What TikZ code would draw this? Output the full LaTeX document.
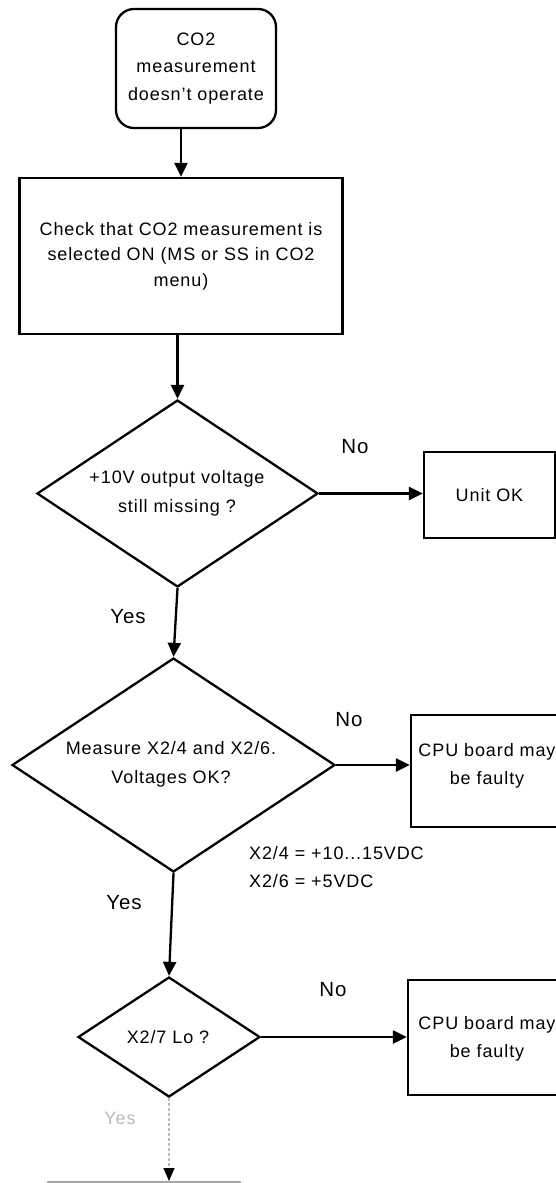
\documentclass[tikz,border=0pt]{standalone}
\usepackage{fontspec}
\setmainfont{Liberation Sans}[LetterSpace=5]
\usetikzlibrary{shapes.geometric,arrows.meta}
\begin{document}
\begin{tikzpicture}[x=1pt,y=-1pt,
  line width=2.3pt,
  txt/.style={font=\fontsize{18}{28}\selectfont, align=center, inner sep=0pt},
  box/.style={draw, rectangle, inner sep=0pt, txt},
  decision/.style={draw, diamond, inner sep=0pt},
  arr/.style={-{Triangle[length=14pt,width=13pt]}},
  lbl/.style={font=\fontsize{20.5}{24}\selectfont, inner sep=0pt},
  faint/.style={draw=gray!55, line width=1.2pt, dash pattern=on 3pt off 2pt},
]
\path[use as bounding box, clip] (0,0) rectangle (556,1183);

% start and first check
\node[box, rounded corners=18pt, minimum width=160pt, minimum height=119pt,
      font=\fontsize{18}{27.5}\selectfont] (start) at (196,68.5)
      {CO2\\measurement\\doesn't operate};
\node[box, minimum width=323pt, minimum height=156pt,
      font=\fontsize{18}{25.5}\selectfont] (check) at (181,256)
      {Check that CO2 measurement is\\selected ON (MS or SS in CO2\\menu)};
\draw[arr] (start.south -| check.north) -- (check.north);

% decision 1
\node[decision, minimum width=281pt, minimum height=187pt] (d1) at (177.5,493.5) {};
\node[txt, font=\fontsize{18}{29}\selectfont] (d1t) at (177,493.5)
      {+10V output voltage\\still missing ?};
\draw[arr] (check.south -| d1.north) -- (d1.north);
\node[box, minimum width=131pt, minimum height=86pt] (unitok) at (489.5,495) {Unit OK};
\draw[arr] (d1.east) -- (d1.east -| unitok.west);
\node[lbl] (no1) at (355,447) {No};
\node[lbl] (yes1) at (128,617) {Yes};

% decision 2
\node[decision, minimum width=323pt, minimum height=214pt] (d2) at (173.5,765) {};
\node[txt, font=\fontsize{18}{29}\selectfont] (d2t) at (171,764.5)
      {Measure X2/4 and X2/6.\\Voltages OK?};
\draw[arr] (d1.south) -- (d2.north);
\node[box, minimum width=154pt, minimum height=112pt] (cpu1) at (488,771) {};
\node[txt] (cpu1t) at (487,766) {CPU board may\\be faulty};
\draw[arr] (d2.east) -- (d2.east -| cpu1.west);
\node[lbl] (no2) at (349,720) {No};
\node[lbl] (yes2) at (124,903) {Yes};
\node[txt, align=left, anchor=west] (note) at (248,867)
      {X2/4 = +10...15VDC\\X2/6 = +5VDC};

% decision 3
\node[decision, minimum width=182pt, minimum height=120pt] (d3) at (169,1037) {};
\node[txt] (d3t) at (168,1037) {X2/7 Lo ?};
\draw[arr] (d2.south) -- (d3.north);
\node[box, minimum width=160pt, minimum height=115pt] (cpu2) at (488,1037.5) {};
\node[txt] (cpu2t) at (487,1039) {CPU board may\\be faulty};
\draw[arr] (d3.east) -- (d3.east -| cpu2.west);
\node[lbl] (no3) at (333,990) {No};
\node[lbl, font=\fontsize{18}{20}\selectfont, text=gray!55] (yes3) at (120,1118) {Yes};

% continuation below
\node[draw=gray!70, line width=1.5pt, minimum width=192pt, minimum height=100pt,
      anchor=north, inner sep=0pt] (next) at (144,1181) {};
\draw[faint, -{Triangle[length=13pt,width=11pt,color=black]}]
      (d3.south) -- (next.north -| d3.south);
\end{tikzpicture}
\end{document}
